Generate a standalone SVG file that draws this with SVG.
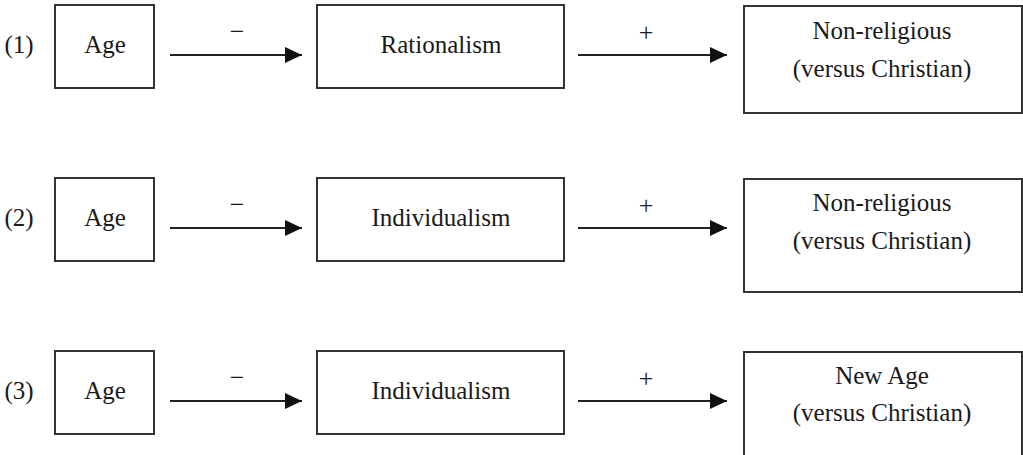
<svg xmlns="http://www.w3.org/2000/svg" width="1023" height="455" viewBox="0 0 1023 455">
<style>
.box{fill:#fff;stroke:#333;stroke-width:2}
.t{font-family:"Liberation Serif","Times New Roman",serif;font-size:25px;fill:#1a1a1a;text-anchor:middle}
.s{font-family:"Liberation Serif","Times New Roman",serif;font-size:26px;fill:#1a1a1a;text-anchor:middle}
.c{stroke:#222;stroke-width:2;fill:none;marker-end:url(#ah)}
</style>
<defs>
<marker id="ah" markerUnits="userSpaceOnUse" markerWidth="18" markerHeight="18" refX="17" refY="8" orient="auto">
<path d="M0,0 L17,8 L0,16 Z" fill="#111"/>
</marker>
</defs>
<rect width="1023" height="455" fill="#fff"/>
<g id="row1">
<text class="t" x="19" y="53">(1)</text>
<g id="age1"><rect class="box" x="55" y="5" width="99" height="83"/><text class="t" x="105" y="53">Age</text></g>
<g id="rationalism1"><rect class="box" x="317" y="5" width="247" height="83"/><text class="t" x="441" y="53">Rationalism</text></g>
<g id="nonrel1"><rect class="box" x="744" y="6" width="278" height="107"/><text class="t" x="882" y="39">Non-religious</text><text class="t" x="882" y="77">(versus Christian)</text></g>
</g>
<g id="row2">
<text class="t" x="19" y="226">(2)</text>
<g id="age2"><rect class="box" x="55" y="178" width="99" height="83"/><text class="t" x="105" y="226">Age</text></g>
<g id="individualism2"><rect class="box" x="317" y="178" width="247" height="83"/><text class="t" x="441" y="226">Individualism</text></g>
<g id="nonrel2"><rect class="box" x="744" y="179" width="278" height="113"/><text class="t" x="882" y="211">Non-religious</text><text class="t" x="882" y="249">(versus Christian)</text></g>
</g>
<g id="row3">
<text class="t" x="19" y="399">(3)</text>
<g id="age3"><rect class="box" x="55" y="351" width="99" height="83"/><text class="t" x="105" y="399">Age</text></g>
<g id="individualism3"><rect class="box" x="317" y="351" width="247" height="83"/><text class="t" x="441" y="399">Individualism</text></g>
<g id="newage3"><rect class="box" x="744" y="352" width="278" height="113"/><text class="t" x="882" y="384">New Age</text><text class="t" x="882" y="421">(versus Christian)</text></g>
</g>
<g id="connectors">
<path class="c" d="M170,55 H302"/>
<path class="c" d="M578,55 H727"/>
<path class="c" d="M170,228 H302"/>
<path class="c" d="M578,228 H727"/>
<path class="c" d="M170,401 H302"/>
<path class="c" d="M578,401 H727"/>
<text class="s" x="237" y="40">−</text>
<text class="s" x="646" y="41">+</text>
<text class="s" x="237" y="213">−</text>
<text class="s" x="646" y="214">+</text>
<text class="s" x="237" y="386">−</text>
<text class="s" x="646" y="387">+</text>
</g>
</svg>
